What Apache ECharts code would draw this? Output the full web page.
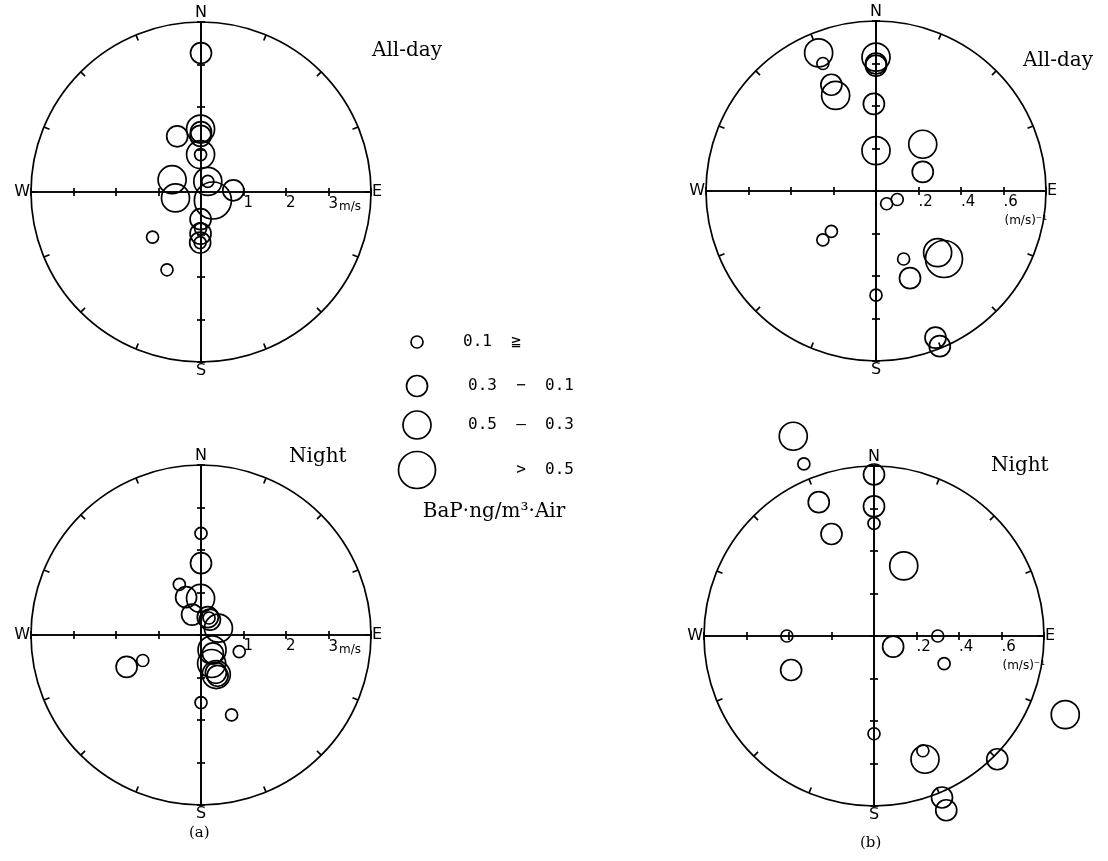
<!DOCTYPE html>
<html lang="en">
<head>
<meta charset="UTF-8">
<title>BaP vs wind</title>
<style>
  html, body { margin: 0; padding: 0; background: #fff; }
  #chart { width: 1108px; height: 861px; }
</style>
</head>
<body>
<div id="chart"></div>
<script src="https://cdn.jsdelivr.net/npm/echarts/dist/echarts.min.js"></script>
<script>
// BaP class of each ring: 0 = <=0.1, 1 = 0.1-0.3, 2 = 0.3-0.5, 3 = >0.5 ng/m3
// (a) wind vector [east, north] in m/s
var aAllDay = [
  [0.00, 3.27, 1], [-0.01, 1.48, 2], [0.00, 1.41, 1], [-0.01, 1.32, 1],
  [-0.56, 1.31, 1], [-0.01, 0.88, 2], [-0.01, 0.88, 0], [-0.68, 0.29, 2],
  [-0.60, -0.14, 2], [0.16, 0.25, 2], [0.16, 0.25, 0], [0.28, -0.20, 3],
  [0.76, 0.04, 1], [-0.01, -0.64, 1], [-0.01, -0.86, 0], [-0.01, -0.98, 1],
  [-0.02, -1.19, 1], [-0.02, -1.19, 0], [-1.14, -1.06, 0], [-0.80, -1.83, 0]
];
var aNight = [
  [0.00, 2.39, 0], [0.00, 1.69, 1], [-0.51, 1.19, 0], [-0.35, 0.89, 1],
  [-0.01, 0.86, 2], [-0.21, 0.48, 1], [0.16, 0.42, 1], [0.21, 0.36, 1],
  [0.19, 0.40, 0], [0.41, 0.16, 2], [0.90, -0.39, 0], [0.26, -0.35, 2],
  [0.28, -0.43, 1], [0.25, -0.67, 2], [0.35, -0.89, 1], [0.39, -0.96, 1],
  [0.36, -0.93, 2], [0.00, -1.59, 0], [0.72, -1.88, 0], [-1.75, -0.75, 1],
  [-1.37, -0.60, 0]
];
// (b) inverse wind speed, (m/s)^-1
var bAllDay = [
  [-0.27, 0.65, 2], [-0.25, 0.60, 0], [-0.21, 0.50, 1], [-0.19, 0.45, 2],
  [0.00, 0.63, 2], [0.00, 0.60, 1], [0.00, 0.59, 1], [-0.01, 0.41, 1],
  [0.00, 0.19, 2], [0.22, 0.22, 2], [0.22, 0.09, 1], [0.05, -0.06, 0],
  [0.10, -0.04, 0], [-0.25, -0.23, 0], [-0.21, -0.19, 0], [0.13, -0.32, 0],
  [0.16, -0.41, 1], [0.29, -0.29, 2], [0.32, -0.32, 3], [0.00, -0.49, 0],
  [0.28, -0.69, 1], [0.30, -0.73, 1]
];
var bNight = [
  [-0.38, 0.94, 2], [-0.33, 0.81, 0], [0.00, 0.76, 1], [-0.26, 0.63, 1],
  [0.00, 0.61, 1], [0.00, 0.53, 0], [-0.20, 0.48, 1], [0.14, 0.33, 2],
  [-0.41, 0.00, 0], [0.30, 0.00, 0], [0.09, -0.05, 1], [0.33, -0.13, 0],
  [-0.39, -0.16, 1], [0.90, -0.37, 2], [0.00, -0.46, 0], [0.23, -0.54, 0],
  [0.24, -0.58, 2], [0.58, -0.58, 1], [0.32, -0.76, 1], [0.34, -0.82, 1]
];

var aTickText = { '1': '1', '2': '2', '3': '3{u|m/s}' };
var bTickText = { '0.2': '.2', '0.4': '.4', '0.6': '.6\n{u|(m/s)⁻¹}' };
var compass = { 0: 'N', 90: 'E', 180: 'S', 270: 'W' };
var legendText = ['0.1  ≧', '0.3  −  0.1', '0.5  —  0.3', '>  0.5'];
var unitText = 'BaP·ng/m³·Air';

var ringSizes = [12, 21, 28, 37];
var INK = '#000';
var SANS = 'DejaVu Sans';
var SERIF = '"DejaVu Serif"';
var R = 170;

var panels = [
  { data: aAllDay, cx: 201, cy: 192, max: 4, step: 1, ticks: aTickText, title: 'All-day', tx: 372, ty: 53 },
  { data: aNight, cx: 201, cy: 635, max: 4, step: 1, ticks: aTickText, title: 'Night', tx: 289, ty: 459 },
  { data: bAllDay, cx: 876, cy: 191, max: 0.8, step: 0.2, ticks: bTickText, title: 'All-day', tx: 1023, ty: 63 },
  { data: bNight, cx: 874, cy: 636, max: 0.8, step: 0.2, ticks: bTickText, title: 'Night', tx: 991, ty: 468 }
];

var option = {
  backgroundColor: '#fff',
  animation: false,
  grid: [], xAxis: [], yAxis: [], polar: [], angleAxis: [], radiusAxis: [], series: [], graphic: []
};

var line = { color: INK, width: 1.7 };

panels.forEach(function (p, i) {
  option.grid.push({ left: p.cx - R, top: p.cy - R, width: 2 * R, height: 2 * R, outerBoundsMode: 'none' });

  // two axes per direction, pulled in to the centre, so the ticks cross the line
  ['bottom', 'top'].forEach(function (pos, k) {
    option.xAxis.push({
      gridIndex: i, type: 'value', position: pos, offset: -R, min: -p.max, max: p.max, interval: p.step,
      axisLine: { show: true, onZero: false, lineStyle: line },
      axisTick: { show: true, length: 4, lineStyle: line },
      splitLine: { show: false },
      axisLabel: k === 0 ? {
        show: true, align: 'left', margin: 4, color: INK, fontFamily: SANS, fontSize: 15,
        formatter: function (v) { return p.ticks[String(Math.round(v * 10) / 10)] || ''; },
        rich: { u: { fontFamily: SANS, fontSize: 12, color: INK, padding: [5, 0, 0, 1] } }
      } : { show: false }
    });
  });
  ['left', 'right'].forEach(function (pos) {
    option.yAxis.push({
      gridIndex: i, type: 'value', position: pos, offset: -R, min: -p.max, max: p.max, interval: p.step,
      axisLine: { show: true, onZero: false, lineStyle: line },
      axisTick: { show: true, length: 4, lineStyle: line },
      splitLine: { show: false },
      axisLabel: { show: false }
    });
  });

  option.polar.push({ center: [p.cx, p.cy], radius: R });
  option.angleAxis.push({
    polarIndex: i, type: 'value', min: 0, max: 360, interval: 22.5, startAngle: 90, clockwise: true,
    axisLine: { show: true, lineStyle: line },
    axisTick: { show: true, inside: true, length: 6, lineStyle: line },
    splitLine: { show: false },
    axisLabel: {
      margin: 1, color: INK, fontFamily: SANS, fontSize: 16,
      formatter: function (v) { return compass[v] || ''; }
    }
  });
  option.radiusAxis.push({ polarIndex: i, show: false, splitLine: { show: false }, axisLine: { show: false } });

  option.series.push({
    type: 'scatter', xAxisIndex: 2 * i, yAxisIndex: 2 * i, clip: false, z: 5,
    symbol: 'circle',
    symbolSize: function (d) { return ringSizes[d[2]]; },
    itemStyle: { color: 'rgba(0,0,0,0)', borderColor: INK, borderWidth: 1.7, opacity: 1 },
    emphasis: { disabled: true },
    data: p.data
  });

  option.graphic.push({
    type: 'text', left: p.tx, top: p.ty - 12,
    style: { text: p.title, font: '20px ' + SERIF, fill: INK }
  });
});

// panel captions
option.graphic.push({ type: 'text', left: 189, top: 826, style: { text: '(a)', font: '15px ' + SERIF, fill: INK } });
option.graphic.push({ type: 'text', left: 860, top: 836, style: { text: '(b)', font: '15px ' + SERIF, fill: INK } });

// size legend
var legendY = [342, 386, 425, 470];
legendY.forEach(function (y, k) {
  option.graphic.push({
    type: 'circle', shape: { cx: 417, cy: y, r: ringSizes[k] / 2 },
    style: { fill: 'none', stroke: INK, lineWidth: 1.7 }
  });
  option.graphic.push({
    type: 'text', x: k === 0 ? 463 : 574, y: y,
    style: {
      text: legendText[k], font: '16px "DejaVu Sans Mono"', fill: INK,
      textAlign: k === 0 ? 'left' : 'right', textVerticalAlign: 'middle'
    }
  });
});
option.graphic.push({
  type: 'text', x: 494, y: 512,
  style: { text: unitText, font: '20px ' + SERIF, fill: INK, textAlign: 'center', textVerticalAlign: 'middle' }
});

var chart = echarts.init(document.getElementById('chart'));
chart.setOption(option);
</script>
</body>
</html>
